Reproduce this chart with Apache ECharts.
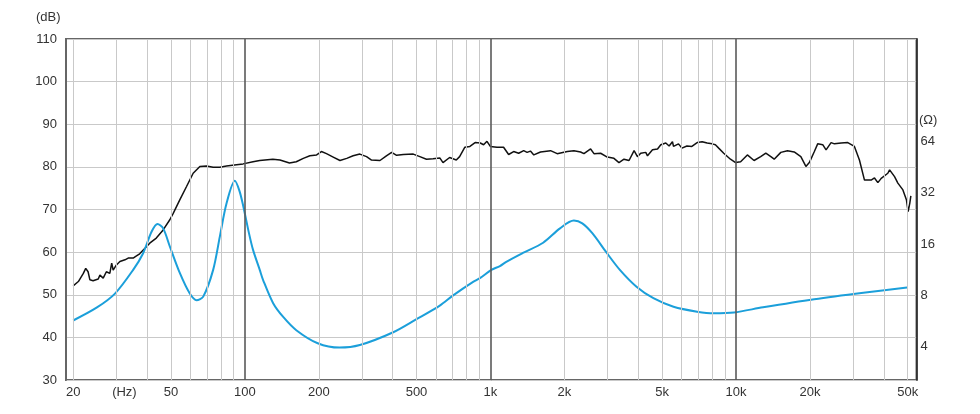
<!DOCTYPE html>
<html>
<head>
<meta charset="utf-8">
<script src="https://cdn.jsdelivr.net/npm/echarts@6/dist/echarts.min.js"></script>
<style>
html,body{margin:0;padding:0;background:#fff;}
#chart{width:980px;height:414px;}
</style>
</head>
<body>
<div id="chart"></div>
<script>
// Frequency response (SPL, dB) – black curve
const splFreq = [20,21,22,22.5,23,23.4,24.1,25.3,25.7,26.5,27.3,28.2,28.7,29.1,30,31,31.5,32.5,33.5,35.1,36.2,37.3,39.2,41,43.6,46.5,49.5,51.1,54.4,57.9,61.6,65.6,69.8,74.3,79.1,84.2,92.5,98.4,108,115,130,139,152,162,173,184,196,205,215,229,244,260,276,294,313,328,355,377,396,415,442,485,516,549,584,622,641,682,726,749,786,825,866,909,938,968,999,1063,1131,1186,1243,1303,1366,1410,1455,1502,1599,1757,1870,2055,2187,2328,2403,2558,2640,2810,2990,3183,3337,3498,3667,3845,3968,4092,4290,4360,4570,4790,4939,5177,5340,5510,5565,5830,6020,6310,6610,6945,7280,7630,7990,8240,8500,8910,9490,9960,10440,11120,11840,12600,13220,13860,14300,15220,16200,17250,18360,19250,19880,20840,21500,22540,23260,24380,25160,26790,28510,30340,31800,33340,35490,36620,37800,39000,41500,42200,44200,45600,47800,49400,50200,51000,51500];
const splDb = [52.1,53.1,55.0,56.2,55.4,53.5,53.3,53.7,54.6,53.9,55.4,55.0,57.4,55.8,57.0,57.8,57.4,58.2,58.6,58.6,59.1,59.6,60.9,62.1,63.3,65.2,67.6,69.1,72.3,75.4,78.5,80.1,80.2,79.9,79.9,80.2,80.5,80.7,81.2,81.5,81.8,81.6,80.9,81.2,82.0,82.6,82.8,83.6,83.1,82.3,81.5,82.0,82.6,83.0,82.4,81.6,81.5,82.6,83.4,82.7,82.9,83.0,82.4,81.8,81.9,82.1,81.0,82.2,81.6,82.4,84.6,84.8,85.7,85.6,85.2,86.0,84.8,84.6,84.6,82.9,83.6,83.2,83.8,83.4,83.7,82.8,83.5,83.8,83.1,83.6,83.8,83.5,83.1,84.2,83.1,83.2,82.3,82.0,81.0,81.8,81.5,83.8,82.4,83.2,83.4,82.6,84.0,84.2,85.2,85.6,84.9,85.9,84.8,85.4,84.4,84.9,84.8,85.7,85.9,85.6,85.4,85.2,84.4,83.2,81.8,81.0,81.2,82.8,81.5,82.4,83.2,82.4,81.8,83.4,83.8,83.5,82.4,80.1,81.0,83.6,85.4,85.2,84.0,85.7,85.4,85.6,85.7,84.8,81.6,76.9,76.9,77.4,76.3,77.3,78.5,79.3,77.7,76.2,74.6,72.3,69.5,71.5,73.2];

// Impedance (Ohm) – blue curve
const impFreq = [20,25,29.6,35.1,38.5,41.7,44.1,46.5,49.5,54.4,59.7,63.6,67.7,74.3,79.1,84.2,91.1,95,98.4,104,108,115,118.7,130.4,143,162,198,243,294,402,500,622,705,850,906,1009,1093,1160,1356,1639,1920,2186,2366,2604,2956,3365,3933,4609,5565,6945,8120,9808,12880,20800,33000,49700];
const impOhm = [5.7,6.8,8.2,11.3,14.1,18.9,21.0,19.8,15.5,10.8,8.2,7.5,7.87,11.3,17.7,27.7,37.7,33,27,18.5,14.8,11.3,9.85,7.2,6.0,5.0,4.19,3.95,4.09,4.86,5.8,6.97,8.0,9.6,10.1,11.3,11.9,12.6,14.2,16.3,19.8,22.0,21.2,18.5,14.4,11.3,9.0,7.7,6.86,6.42,6.28,6.35,6.81,7.6,8.3,8.9];

// Axis ticks
const gridFreqs = [20,30,40,50,60,70,80,90,100,200,300,400,500,600,700,800,900,1000,2000,3000,4000,5000,6000,7000,8000,9000,10000,20000,30000,40000,50000];
const majorFreqs = [100,1000,10000];
const xTickValues = [20,50,100,200,500,1000,2000,5000,10000,20000,50000];
const xTickLabels = ['20','50','100','200','500','1k','2k','5k','10k','20k','50k'];
const dbTicks = [30,40,50,60,70,80,90,100,110];
const ohmTicks = [4,8,16,32,64];

const FONT = '"Liberation Sans", Arial, sans-serif';

const markData = gridFreqs.map(f => {
  const major = majorFreqs.includes(f);
  const idx = xTickValues.indexOf(f);
  const item = {
    xAxis: f,
    lineStyle: major ? {color:'#5a5a5a', width:1.6, type:'solid'} : {color:'#c9c9c9', width:1, type:'solid'},
    label: {show:false}
  };
  if (idx >= 0) {
    item.label = {show:true, position:'start', formatter: xTickLabels[idx], color:'#333', fontSize:13, fontFamily:FONT, distance:6};
  } else if (f === 30) {
    item.label = {show:true, position:'start', formatter: '(Hz)', color:'#333', fontSize:13, fontFamily:FONT, distance:6, offset:[8,0]};
  }
  return item;
});

const chart = echarts.init(document.getElementById('chart'), null, {renderer:'canvas'});
chart.setOption({
  animation: false,
  backgroundColor: '#fff',
  grid: {left:66, right:63.5, top:39, bottom:34, show:true, borderColor:'#666', borderWidth:2, backgroundColor:'transparent'},
  xAxis: {
    type:'log', logBase:10, min:18.7, max:54300,
    axisLine:{show:false}, axisTick:{show:false}, axisLabel:{show:false}, splitLine:{show:false}
  },
  yAxis: [
    {
      type:'value', min:dbTicks[0], max:dbTicks[dbTicks.length-1], interval:10,
      position:'left',
      axisLine:{show:true, lineStyle:{color:'#666', width:2}},
      axisTick:{show:false},
      axisLabel:{color:'#333', fontSize:13, fontFamily:FONT, margin:9},
      splitLine:{show:true, lineStyle:{color:'#c9c9c9', width:1}}
    },
    {
      type:'log', logBase:2, min:2.55, max:256,
      position:'right',
      axisLine:{show:true, lineStyle:{color:'#222', width:1.5}},
      axisTick:{show:false},
      splitLine:{show:false},
      axisLabel:{color:'#333', fontSize:13, fontFamily:FONT, margin:4,
        showMinLabel:false, showMaxLabel:false,
        formatter: v => { const r = Math.round(v); return (ohmTicks.includes(r) && Math.abs(v-r) < 0.05) ? String(r) : ''; }
      }
    }
  ],
  graphic: [
    {type:'text', left:36, top:11, style:{text:'(dB)', fill:'#333', font:'13px ' + FONT}},
    {type:'text', left:919, top:114, style:{text:'(Ω)', fill:'#333', font:'13px ' + FONT}}
  ],
  series: [
    {
      name:'grid', type:'line', data:[], z:1, silent:true,
      markLine:{silent:true, symbol:['none','none'], animation:false, data: markData}
    },
    {
      name:'SPL', type:'line', yAxisIndex:0, z:3,
      data: splFreq.map((f,i) => [f, splDb[i]]),
      showSymbol:false, symbol:'none',
      lineStyle:{color:'#111', width:1.5}
    },
    {
      name:'Impedance', type:'line', yAxisIndex:1, z:4,
      data: impFreq.map((f,i) => [f, impOhm[i]]),
      showSymbol:false, symbol:'none', smooth:0.3,
      lineStyle:{color:'#1b9fda', width:2}
    }
  ]
});
</script>
</body>
</html>
